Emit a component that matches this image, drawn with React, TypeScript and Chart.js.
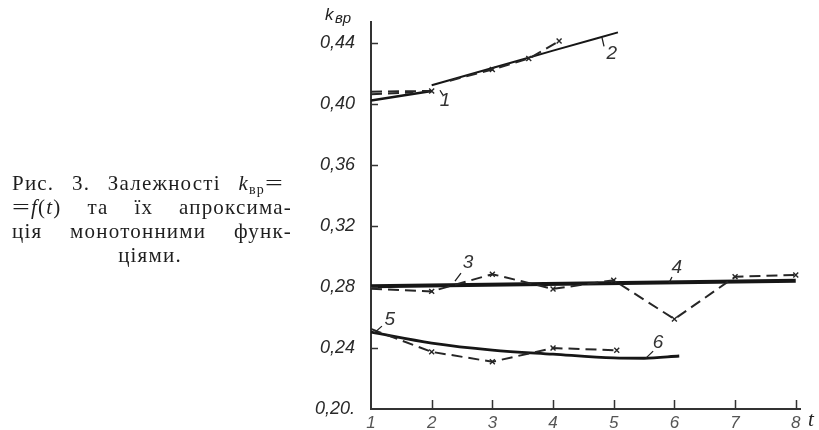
import React, { useEffect, useRef } from "react";
import { Chart, registerables } from "chart.js";

Chart.register(...registerables);

// ---- axis ticks ----
const xTickValues = [1, 2, 3, 4, 5, 6, 7, 8];
const xTickLabels = ["1", "2", "3", "4", "5", "6", "7", "8"];
const yTickValues = [0.2, 0.24, 0.28, 0.32, 0.36, 0.4, 0.44];
const yTickLabels = ["0,20.", "0,24", "0,28", "0,32", "0,36", "0,40", "0,44"];

// ---- series (t, k) ----
// curve 1: experimental (dashed) and approximation (solid)
const exp1T = [1, 2];
const exp1V = [0.4083, 0.4087];
const exp1bT = [1, 1.7];
const exp1bV = [0.4066, 0.4078];
const fit1T = [1, 1.5, 2];
const fit1V = [0.4025, 0.4056, 0.4087];
// curve 2
const exp2T = [2.3, 3, 3.6, 4.1];
const exp2V = [0.4155, 0.4228, 0.4300, 0.4415];
const fit2T = [2, 3, 4, 5.07];
const fit2V = [0.4125, 0.4238, 0.4352, 0.4472];
// curve 3 (experimental) and 4 (approximation)
const exp3T = [1, 2, 3, 4, 5, 6, 7, 8];
const exp3V = [0.279, 0.2772, 0.2885, 0.2788, 0.2845, 0.259, 0.2868, 0.288];
const fit4T = [1, 8];
const fit4V = [0.2805, 0.2842];
// curve 5 (experimental) and 6 (approximation)
const exp5T = [1, 2, 3, 4, 5.05];
const exp5V = [0.2525, 0.2375, 0.231, 0.2400, 0.2385];
const fit6T = [1, 2, 3, 4, 5, 5.5, 6.08];
const fit6V = [0.2505, 0.2433, 0.2387, 0.236, 0.2335, 0.2333, 0.2348];

// ---- curve number annotations (data coords) ----
const curveNames = ["1", "2", "3", "4", "5", "6"];
const nameT = [2.22, 4.97, 2.6, 6.04, 1.31, 5.73];
const nameV = [0.4026, 0.4334, 0.2957, 0.2925, 0.2584, 0.2433];
const leaderT1 = [2.137, 4.806, 2.384, 5.96, 1.18, 5.65];
const leaderV1 = [0.4092, 0.4439, 0.2839, 0.2866, 0.2544, 0.238];
const leaderT2 = [2.186, 4.84, 2.483, 5.91, 1.05, 5.53];
const leaderV2 = [0.406, 0.438, 0.2892, 0.2826, 0.2498, 0.2334];

const zip = (t: number[], v: number[]) => t.map((x, i) => ({ x, y: v[i] }));

const DASH = [11, 6];
const markerRadius = (ctx: any) => (ctx.dataIndex === 0 ? 0 : 3.5);

function dashed(t: number[], v: number[], markers = true) {
  return {
    data: zip(t, v),
    borderColor: "#262626",
    borderWidth: 2,
    borderDash: DASH,
    pointStyle: "crossRot",
    pointRadius: markers ? markerRadius : 0,
    pointBorderWidth: 1.4,
    pointBorderColor: "#262626",
    tension: 0,
  };
}
function solid(t: number[], v: number[], w: number) {
  return {
    data: zip(t, v),
    borderColor: "#161616",
    borderWidth: w,
    pointRadius: 0,
    cubicInterpolationMode: "monotone",
  };
}

const decorPlugin = {
  id: "decor",
  afterDraw(chart: any) {
    const { ctx, chartArea, scales } = chart;
    const xs = scales.x;
    const ys = scales.y;
    ctx.save();
    // inward ticks
    ctx.strokeStyle = "#333";
    ctx.lineWidth = 1.5;
    ctx.beginPath();
    yTickValues.slice(1).forEach((v) => {
      const py = Math.round(ys.getPixelForValue(v)) + 0.5;
      ctx.moveTo(chartArea.left, py);
      ctx.lineTo(chartArea.left + 7, py);
    });
    xTickValues.slice(1).forEach((t) => {
      const px = Math.round(xs.getPixelForValue(t)) + 0.5;
      ctx.moveTo(px, chartArea.bottom);
      ctx.lineTo(px, chartArea.bottom - 9);
    });
    ctx.stroke();

    // leaders
    ctx.strokeStyle = "#222";
    ctx.lineWidth = 1.3;
    ctx.beginPath();
    curveNames.forEach((_, i) => {
      ctx.moveTo(xs.getPixelForValue(leaderT1[i]), ys.getPixelForValue(leaderV1[i]));
      ctx.lineTo(xs.getPixelForValue(leaderT2[i]), ys.getPixelForValue(leaderV2[i]));
    });
    ctx.stroke();

    // curve names
    ctx.fillStyle = "#333";
    ctx.font = 'italic 19px "Liberation Sans", sans-serif';
    ctx.textAlign = "center";
    ctx.textBaseline = "middle";
    curveNames.forEach((n, i) => {
      ctx.fillText(n, xs.getPixelForValue(nameT[i]), ys.getPixelForValue(nameV[i]));
    });

    // axis titles
    ctx.textAlign = "left";
    ctx.textBaseline = "alphabetic";
    ctx.fillStyle = "#222";
    ctx.font = 'italic 17px "Liberation Sans", sans-serif';
    ctx.fillText("k", chartArea.left - 46, 20);
    ctx.font = 'italic 15px "Liberation Sans", sans-serif';
    ctx.fillText("вр", chartArea.left - 36, 23);
    ctx.font = 'italic 21px "Liberation Serif", serif';
    ctx.fillText("t", chartArea.right + 8, 426);
    ctx.restore();
  },
};

export default function App() {
  const ref = useRef<HTMLCanvasElement | null>(null);
  useEffect(() => {
    if (!ref.current) return;
    const chart = new Chart(ref.current, {
      type: "line",
      data: {
        datasets: [
          dashed(exp1T, exp1V),
          dashed(exp1bT, exp1bV, false),
          solid(fit1T, fit1V, 2.6),
          dashed(exp2T, exp2V),
          solid(fit2T, fit2V, 2),
          dashed(exp3T, exp3V),
          solid(fit4T, fit4V, 4),
          dashed(exp5T, exp5V),
          solid(fit6T, fit6V, 2.8),
        ] as any,
      },
      options: {
        responsive: false,
        animation: false,
        devicePixelRatio: 1,
        layout: { padding: { left: 0, top: 22, right: 19, bottom: 0 } },
        plugins: { legend: { display: false }, tooltip: { enabled: false } },
        scales: {
          x: {
            type: "linear",
            min: 1,
            max: 8.07,
            grid: { display: false },
            border: { display: true, color: "#333", width: 2 },
            afterBuildTicks: (s: any) => {
              s.ticks = xTickValues.map((v) => ({ value: v }));
            },
            afterFit: (s: any) => {
              s.height = 21;
            },
            ticks: {
              padding: -4,
              color: "#555",
              font: { family: '"Liberation Sans", sans-serif', style: "italic", size: 17 },
              callback: (_v: any, i: number) => xTickLabels[i],
              maxRotation: 0,
              autoSkip: false,
            },
          },
          y: {
            type: "linear",
            min: 0.2,
            max: 0.454,
            grid: { display: false },
            border: { display: true, color: "#333", width: 2 },
            afterBuildTicks: (s: any) => {
              s.ticks = yTickValues.map((v) => ({ value: v }));
            },
            afterFit: (s: any) => {
              s.width = 371;
            },
            ticks: {
              padding: 8,
              color: "#2a2a2a",
              font: { family: '"Liberation Sans", sans-serif', style: "italic", size: 18 },
              callback: (_v: any, i: number) => yTickLabels[i],
              autoSkip: false,
            },
          },
        },
      } as any,
      plugins: [decorPlugin],
    });
    return () => chart.destroy();
  }, []);

  const lineBase: React.CSSProperties = {
    position: "absolute",
    left: 12,
    width: 280,
    height: 24,
    lineHeight: "24px",
    fontFamily: '"Liberation Serif", serif',
    fontSize: 21,
    letterSpacing: "1.2px",
    color: "#1e1e1e",
    display: "flex",
    justifyContent: "space-between",
    whiteSpace: "nowrap",
  };
  const sub: React.CSSProperties = { fontSize: 14, position: "relative", top: 4, fontStyle: "normal" };
  const eq: React.CSSProperties = { display: "inline-block", transform: "scaleX(1.5)", transformOrigin: "left center", marginRight: 6 };

  return (
    <div style={{ position: "absolute", left: 0, top: 0, width: 819, height: 430, background: "#fff", overflow: "hidden" }}>
      <canvas ref={ref} width={819} height={430} style={{ position: "absolute", left: 0, top: 0 }} />
      <div style={{ ...lineBase, top: 171 }}>
        <span>Рис.</span>
        <span>3.</span>
        <span>Залежності</span>
        <span style={{ paddingRight: 8 }}>
          <i>k</i>
          <span style={sub}>вр</span>
          <span style={eq}>=</span>
        </span>
      </div>
      <div style={{ ...lineBase, top: 195 }}>
        <span>
          <span style={eq}>=</span>
          <i>f</i>(<i>t</i>)
        </span>
        <span>та</span>
        <span>їх</span>
        <span>апроксима-</span>
      </div>
      <div style={{ ...lineBase, top: 219 }}>
        <span>ція</span>
        <span>монотонними</span>
        <span>функ-</span>
      </div>
      <div style={{ ...lineBase, top: 243, left: 150, width: "auto", transform: "translateX(-50%)" }}>
        <span>ціями.</span>
      </div>
    </div>
  );
}
